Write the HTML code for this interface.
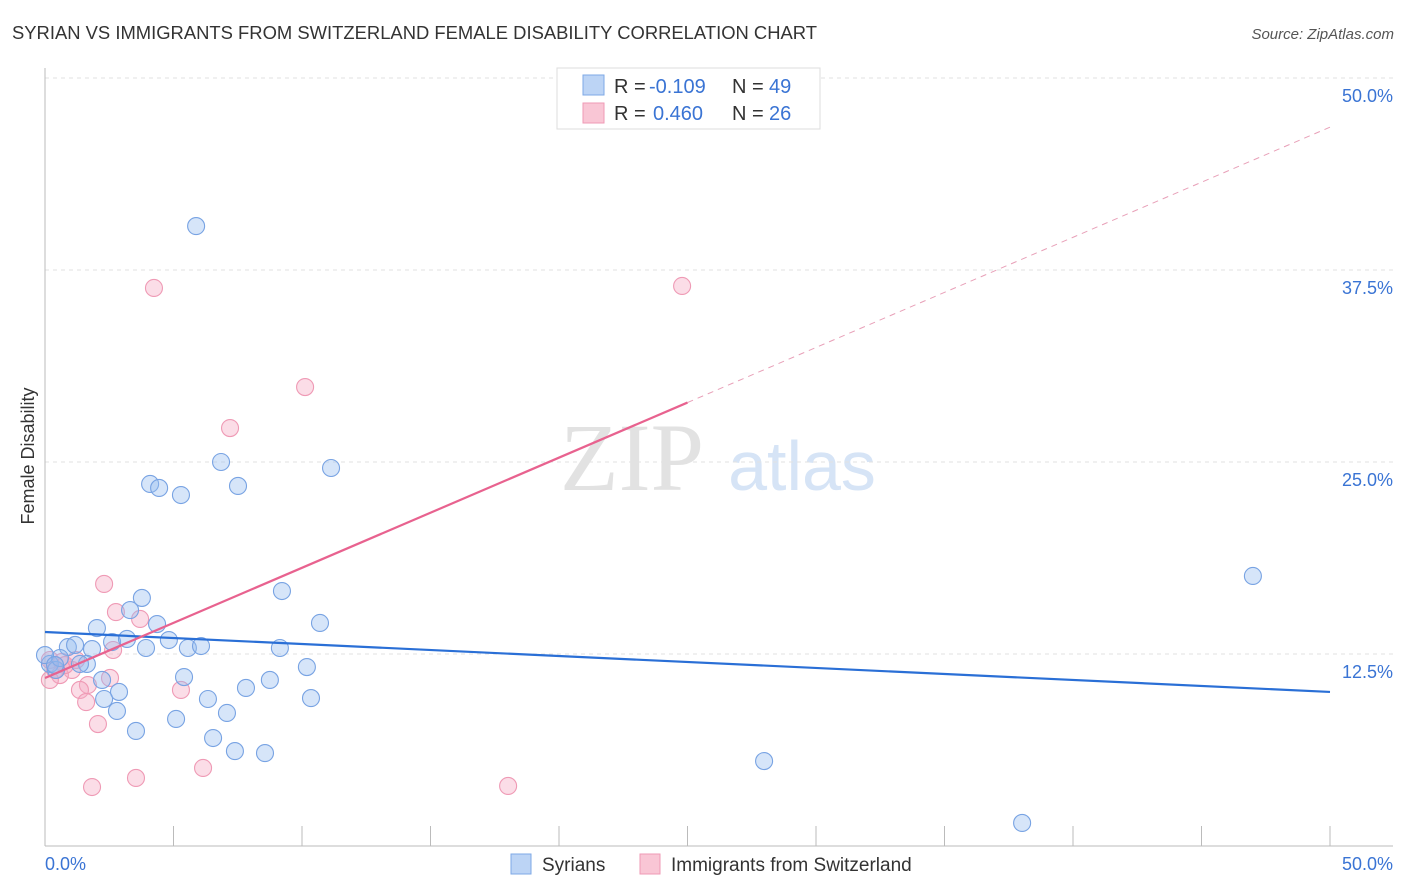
<!DOCTYPE html>
<html><head><meta charset="utf-8"><style>
body{margin:0;background:#fff;font-family:"Liberation Sans",sans-serif;}
svg{display:block}
</style></head><body>
<svg id="chart" width="1406" height="892">
<text x="12" y="39" font-size="18" fill="#333" textLength="805" lengthAdjust="spacingAndGlyphs">SYRIAN VS IMMIGRANTS FROM SWITZERLAND FEMALE DISABILITY CORRELATION CHART</text>
<text x="1394" y="39" font-size="15" fill="#555" font-style="italic" text-anchor="end">Source: ZipAtlas.com</text>
<text x="34" y="456" font-size="18" fill="#333" transform="rotate(-90 34 456)" text-anchor="middle">Female Disability</text>
<g>
<text x="632" y="490" font-size="96" font-family="Liberation Serif,serif" fill="#e2e2e2" text-anchor="middle">ZIP</text>
<text x="802" y="490" font-size="70" fill="#d6e4f6" text-anchor="middle">atlas</text>
</g>
<g id="grid"></g><g id="axes"></g><g id="marks"></g>
<g>
<rect x="557" y="68" width="263" height="61" fill="#fff" stroke="#ddd"/>
<rect x="583" y="75" width="21" height="20" fill="#bcd4f5" stroke="#7ea8e6"/>
<rect x="583" y="103" width="21" height="20" fill="#f9c6d5" stroke="#ef9ab5"/>
<text x="614" y="93" font-size="20" fill="#333">R =</text>
<text x="649" y="93" font-size="20" fill="#3a74d4">-0.109</text>
<text x="732" y="93" font-size="20" fill="#333">N =</text>
<text x="769" y="93" font-size="20" fill="#3a74d4">49</text>
<text x="614" y="120" font-size="20" fill="#333">R =</text>
<text x="653" y="120" font-size="20" fill="#3a74d4">0.460</text>
<text x="732" y="120" font-size="20" fill="#333">N =</text>
<text x="769" y="120" font-size="20" fill="#3a74d4">26</text>
</g>
<g>
<rect x="511" y="854" width="20" height="20" fill="#bcd4f5" stroke="#7ea8e6"/>
<text x="542" y="871" font-size="19" fill="#333">Syrians</text>
<rect x="640" y="854" width="20" height="20" fill="#f9c6d5" stroke="#ef9ab5"/>
<text x="671" y="871" font-size="19" fill="#333">Immigrants from Switzerland</text>
</g>
</svg>
<script>
const blueX=[5.88,4.09,4.44,5.29,6.85,7.51,11.13,47.00,9.22,3.77,3.31,10.70,2.02,4.36,0.89,1.17,1.83,2.61,3.19,3.93,4.82,5.56,6.07,9.14,1.63,1.36,0.19,0.43,0.58,10.19,5.41,2.22,8.75,2.88,7.82,2.30,6.34,10.35,2.80,7.08,5.10,3.54,6.54,7.39,8.56,27.98,38.02,0,0.39];
const blueY=[40.36,23.57,23.31,22.85,25.00,23.44,24.61,17.58,16.60,16.15,15.36,14.52,14.19,14.45,12.95,13.09,12.82,13.28,13.48,12.89,13.41,12.89,13.02,12.89,11.85,11.85,11.85,11.46,12.24,11.65,11.00,10.81,10.81,10.03,10.29,9.57,9.57,9.63,8.79,8.66,8.27,7.49,7.03,6.18,6.05,5.53,1.50,12.43,11.78];
const pinkX=[4.24,24.79,10.12,7.20,2.30,2.76,3.70,2.65,0.19,0.66,1.05,0.58,0.19,1.67,2.53,5.29,1.36,1.60,2.06,3.54,1.83,6.15,18.02,0.78,1.21,0.39];
const pinkY=[36.33,36.46,29.88,27.21,17.06,15.23,14.78,12.76,12.11,11.98,11.46,11.13,10.81,10.48,10.94,10.16,10.16,9.37,7.94,4.43,3.84,5.08,3.91,11.78,12.11,11.46];
const blueTrend=[13.93,10.03];
const pinkTrend=[10.94,46.8];
const yTicks=[12.5,25.0,37.5,50.0];
const xTickVals=[0,5,10,15,20,25,30,35,40,45,50];
const NS="http://www.w3.org/2000/svg";
const sx=v=>45+v*25.7, sy=v=>846-v*15.36;
function mk(p,t,a){const e=document.createElementNS(NS,t);for(const k in a)e.setAttribute(k,a[k]);p.appendChild(e);return e;}
const grid=document.getElementById('grid'),axes=document.getElementById('axes'),marks=document.getElementById('marks');
yTicks.forEach(v=>{
 const l=mk(grid,'line',{x1:45,x2:1393,y1:sy(v),y2:sy(v),stroke:'#e2e2e2','stroke-dasharray':'4 4'});
 
 
 const t=mk(axes,'text',{x:1393,y:sy(v)+24,'font-size':18,fill:'#3a74d4','text-anchor':'end'});
 t.textContent=v.toFixed(1)+'%';
 
 
});
mk(axes,'line',{x1:45,x2:45,y1:68,y2:846,stroke:'#bbb'});
mk(axes,'line',{x1:45,x2:1393,y1:846,y2:846,stroke:'#bbb'});
xTickVals.forEach(v=>{const t=mk(axes,'line',{x1:sx(v),x2:sx(v),y1:826,y2:846,stroke:'#bbb'});
 
 });
const xl=mk(axes,'text',{x:45,y:870,'font-size':18,fill:'#3a74d4'});xl.textContent='0.0%';


const xr=mk(axes,'text',{x:1393,y:870,'font-size':18,fill:'#3a74d4','text-anchor':'end'});xr.textContent='50.0%';


pinkX.forEach((x,i)=>{const c=mk(marks,'circle',{cx:sx(x),cy:sy(pinkY[i]),r:8.5,fill:'rgba(244,170,195,0.4)',stroke:'#ef9ab5','stroke-width':1.1});
 
 });
blueX.forEach((x,i)=>{const c=mk(marks,'circle',{cx:sx(x),cy:sy(blueY[i]),r:8.5,fill:'rgba(147,186,240,0.38)',stroke:'#78a3e3','stroke-width':1.1});
 
 });
const bt=mk(marks,'line',{x1:sx(0),y1:sy(blueTrend[0]),x2:sx(50),y2:sy(blueTrend[1]),stroke:'#2a6fd6','stroke-width':2.2});


const pm=pinkTrend[0]+(pinkTrend[1]-pinkTrend[0])*25/50;
const pt=mk(marks,'line',{x1:sx(0),y1:sy(pinkTrend[0]),x2:sx(25),y2:sy(pm),stroke:'#e8628f','stroke-width':2.2});


const pd=mk(marks,'line',{x1:sx(25),y1:sy(pm),x2:sx(50),y2:sy(pinkTrend[1]),stroke:'#e8a0b8','stroke-width':1,'stroke-dasharray':'6 5'});


</script>
</body></html>
